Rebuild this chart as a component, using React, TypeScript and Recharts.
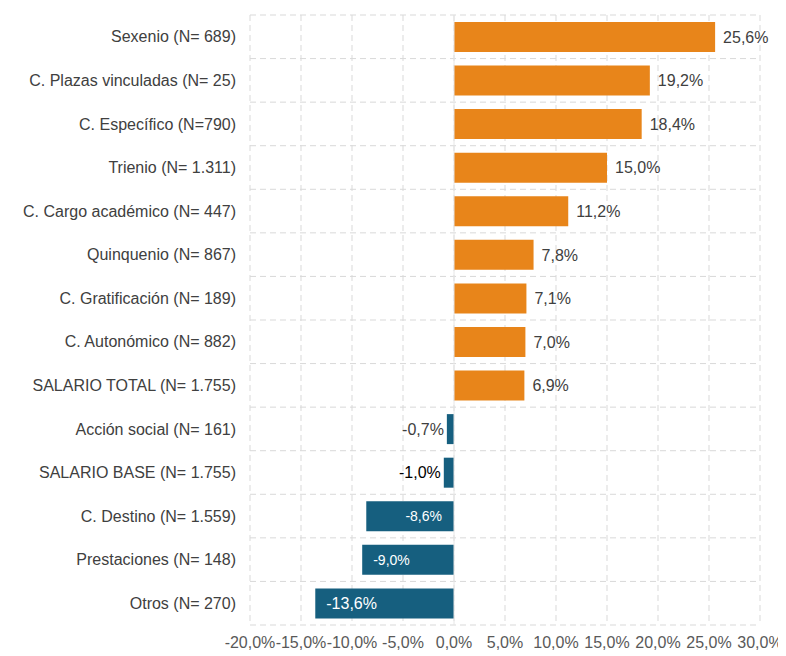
import { BarChart, Bar, XAxis, YAxis, CartesianGrid, LabelList, Cell, ReferenceLine } from "recharts";

const categories = [
    "Sexenio (N= 689)",
    "C. Plazas vinculadas (N= 25)",
    "C. Específico (N=790)",
    "Trienio (N= 1.311)",
    "C. Cargo académico (N= 447)",
    "Quinquenio (N= 867)",
    "C. Gratificación (N= 189)",
    "C. Autonómico (N= 882)",
    "SALARIO TOTAL (N= 1.755)",
    "Acción social (N= 161)",
    "SALARIO BASE (N= 1.755)",
    "C. Destino (N= 1.559)",
    "Prestaciones (N= 148)",
    "Otros (N= 270)",
];

const values = [25.6, 19.2, 18.4, 15.0, 11.2, 7.8, 7.1, 7.0, 6.9, -0.7, -1.0, -8.6, -9.0, -13.6];

const xTicks = [-20, -15, -10, -5, 0, 5, 10, 15, 20, 25, 30];

// where the value label of each negative bar sits
const negLabelPlacement: Record<number, string> = {
    9: "outside",
    10: "outside",
    11: "insideRight",
    12: "insideLeft",
    13: "insideLeft",
};

const ORANGE = "#E8851A";
const BLUE = "#165F7F";
const FONT = "'Liberation Sans', Arial, sans-serif";

const fmt = (v: number) => `${v.toFixed(1).replace(".", ",")}%`;

const data = categories.map((name, i) => ({ name, value: values[i] }));

const ValueLabel = (props: any) => {
    const { x, y, width, height, value, index } = props;
    const left = Math.min(x, x + width);
    const right = Math.max(x, x + width);
    const cy = y + height / 2;
    if (value >= 0) {
        return (
            <text x={right + 8} y={cy} dy="0.36em" fill="#404040" fontSize={16} fontFamily={FONT}>
                {fmt(value)}
            </text>
        );
    }
    const place = negLabelPlacement[index] || "outside";
    if (place === "outside") {
        return (
            <text x={left - 3} y={cy} dy="0.36em" textAnchor="end" fill={index === 10 ? "#000" : "#404040"} fontSize={16} fontFamily={FONT}>
                {fmt(value)}
            </text>
        );
    }
    if (place === "insideRight") {
        return (
            <text x={right - 12} y={cy} dy="0.36em" textAnchor="end" fill="#fff" fontSize={14} fontFamily={FONT}>
                {fmt(value)}
            </text>
        );
    }
    return (
        <text x={left + 11} y={cy} dy="0.36em" fill="#fff" fontSize={index === 13 ? 16 : 14} fontFamily={FONT}>
            {fmt(value)}
        </text>
    );
};

export default function App() {
    return (
        <div style={{ width: 778, height: 645 }}>
            <BarChart
                width={778}
                height={645}
                data={data}
                layout="vertical"
                margin={{ top: 7, right: 26, left: 0, bottom: 0 }}
                barCategoryGap="16%"
            >
                <CartesianGrid
                    strokeDasharray="6 4"
                    stroke="#d9d9d9"
                    horizontalCoordinatesGenerator={({ offset }: any) =>
                        Array.from({ length: categories.length + 1 }, (_, i) => offset.top + (i * offset.height) / categories.length)
                    }
                />
                <XAxis
                    type="number"
                    domain={[-20, 30]}
                    ticks={xTicks}
                    interval={0}
                    axisLine={false}
                    tickLine={false}
                    height={28}
                    tickMargin={6}
                    tickFormatter={fmt}
                    tick={{ fill: "#595959", fontSize: 16, fontFamily: FONT }}
                />
                <YAxis
                    type="category"
                    dataKey="name"
                    width={242}
                    axisLine={false}
                    tickLine={false}
                    tickMargin={8}
                    interval={0}
                    tick={{ fill: "#404040", fontSize: 16, fontFamily: FONT }}
                />
                <ReferenceLine x={0} stroke="#e6e6e6" />
                <Bar dataKey="value" isAnimationActive={false}>
                    {data.map((d, i) => (
                        <Cell key={`cell-${i}`} fill={d.value >= 0 ? ORANGE : BLUE} />
                    ))}
                    <LabelList dataKey="value" content={<ValueLabel />} />
                </Bar>
            </BarChart>
        </div>
    );
}
